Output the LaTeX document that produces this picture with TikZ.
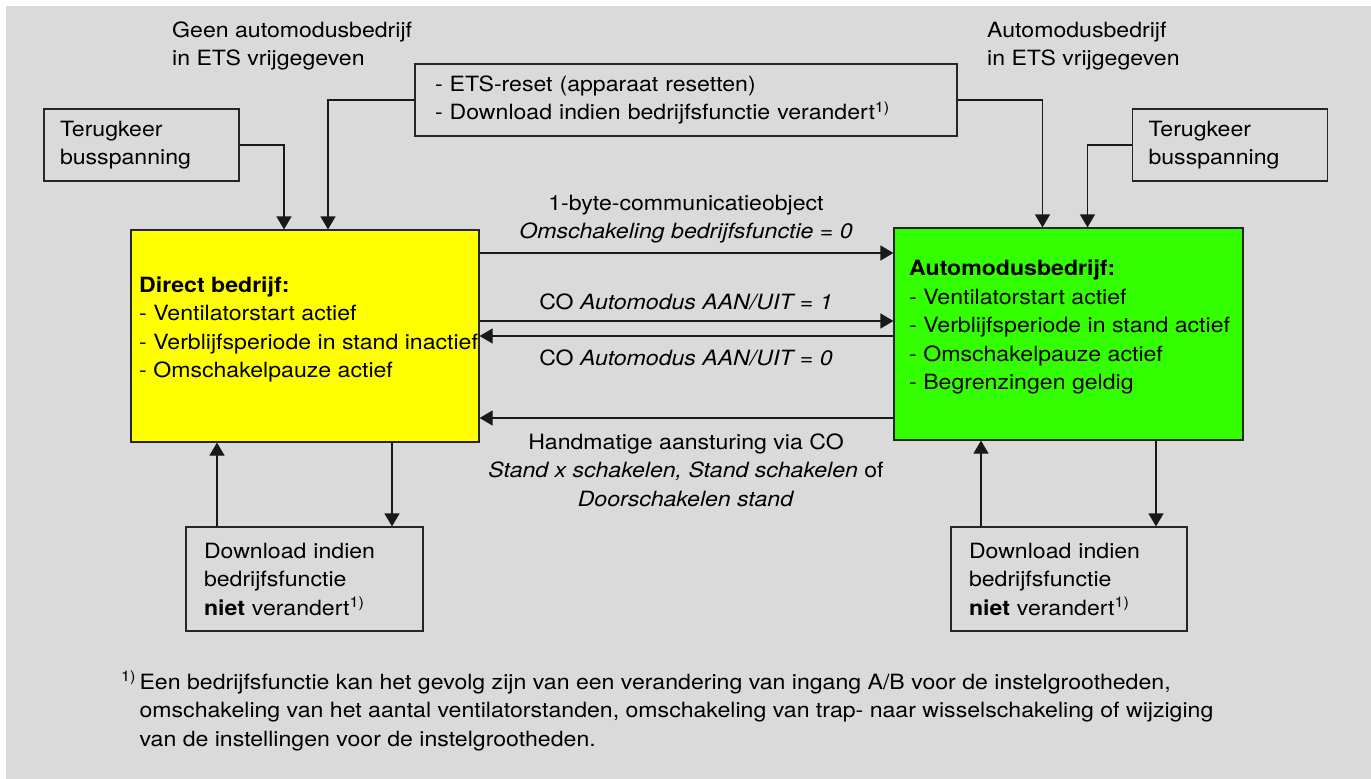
\documentclass[tikz,border=0pt]{standalone}
\usepackage{fontspec}
\setmainfont[FakeStretch=1.1]{TeX Gyre Heros}
\usetikzlibrary{arrows.meta}
\definecolor{achtergrond}{HTML}{DADADA}
\definecolor{geel}{HTML}{FFFF00}
\definecolor{groen}{HTML}{33FF00}
\newcommand{\voetnoot}{\textsuperscript{1)}}
\begin{document}
\begin{tikzpicture}[x=1pt,y=-1pt,
	every node/.style={align=left,font=\fontsize{21}{28.5}\selectfont,inner sep=0pt},
	kader/.style={draw=black!85,line width=1.2pt,anchor=center},
	pijl/.style={-{Triangle[length=13pt,width=15pt]},line width=1.2pt,draw=black!90}]
	\useasboundingbox (0,0) rectangle (1371,779);
	\fill[achtergrond] (6,6) rectangle (1371,779);
	\node[anchor=west] (geen) at (172,46) {Geen automodusbedrijf\\in ETS vrijgegeven};
	\node[anchor=west] (vrij) at (987,46) {Automodusbedrijf\\in ETS vrijgegeven};
	\node[kader,text width=163pt,inner xsep=16pt,minimum height=72pt] (terL) at (141.5,145) {Terugkeer\\busspanning};
	\node[kader,text width=502pt,inner xsep=20pt,minimum height=72pt] (ets) at (686,100)
		{- ETS-reset (apparaat resetten)\\- Download indien bedrijfsfunctie verandert\voetnoot};
	\node[kader,text width=163pt,inner xsep=16pt,minimum height=72pt] (terR) at (1230,145) {Terugkeer\\busspanning};
	\node[kader,fill=geel,minimum width=348pt,minimum height=212pt] (direct) at (305,336) {};
	\node[anchor=west] (directtxt) at (139,329.5) {\textbf{Direct bedrijf:}\\- Ventilatorstart actief\\
		- Verblijfsperiode in stand inactief\\- Omschakelpauze actief};
	\node[kader,fill=groen,minimum width=349pt,minimum height=212pt] (auto) at (1068.5,334) {};
	\node[anchor=west] (autotxt) at (909,327) {\textbf{Automodusbedrijf:}\\- Ventilatorstart actief\\
		- Verblijfsperiode in stand actief\\- Omschakelpauze actief\\- Begrenzingen geldig};
	\node[kader,text width=201pt,inner xsep=18pt,minimum height=104pt] (dlL) at (304.5,579)
		{Download indien\\bedrijfsfunctie\\\textbf{niet} verandert\voetnoot};
	\node[kader,text width=200pt,inner xsep=18pt,minimum height=104pt] (dlR) at (1069,579)
		{Download indien\\bedrijfsfunctie\\\textbf{niet} verandert\voetnoot};
	\node[align=center] (lbyte) at (686,219) {1-byte-communicatieobject\\\textit{Omschakeling bedrijfsfunctie = 0}};
	\node[align=center] (lco1) at (686,302) {CO \textit{Automodus AAN/UIT = 1}};
	\node[align=center] (lco0) at (686,358) {CO \textit{Automodus AAN/UIT = 0}};
	\node[align=center] (lhand) at (686,470) {Handmatige aansturing via CO\\
		\textit{Stand x schakelen, Stand schakelen} of\\\textit{Doorschakelen stand}};
	\node[anchor=west] (noot) at (121,711)
		{\voetnoot\,Een bedrijfsfunctie kan het gevolg zijn van een verandering van ingang A/B voor de instelgrootheden,\\
		\phantom{\voetnoot\,}omschakeling van het aantal ventilatorstanden, omschakeling van trap- naar wisselschakeling of wijziging\\
		\phantom{\voetnoot\,}van de instellingen voor de instelgrootheden.};
	\draw[pijl] (terL.east) -| ([xshift=-21pt]direct.north);
	\draw[pijl] (ets.west) -| ([xshift=23pt]direct.north);
	\draw[pijl] (ets.east) -| ([xshift=-26pt]auto.north);
	\draw[pijl] (terR.west) -| ([xshift=19pt]auto.north);
	\draw[pijl] (direct.east |- 0,253) -- (auto.west |- 0,253);
	\draw[pijl] (direct.east |- 0,321) -- (auto.west |- 0,321);
	\draw[pijl] (auto.west |- 0,336) -- (direct.east |- 0,336);
	\draw[pijl] (auto.west |- 0,418) -- (direct.east |- 0,418);
	\draw[pijl] ([xshift=-87.5pt]dlL.north) -- ([xshift=-87.5pt]dlL.north |- direct.south);
	\draw[pijl] ([xshift=87.5pt]dlL.north |- direct.south) -- ([xshift=87.5pt]dlL.north);
	\draw[pijl] ([xshift=-88pt]dlR.north) -- ([xshift=-88pt]dlR.north |- auto.south);
	\draw[pijl] ([xshift=87pt]dlR.north |- auto.south) -- ([xshift=87pt]dlR.north);
\end{tikzpicture}
\end{document}
